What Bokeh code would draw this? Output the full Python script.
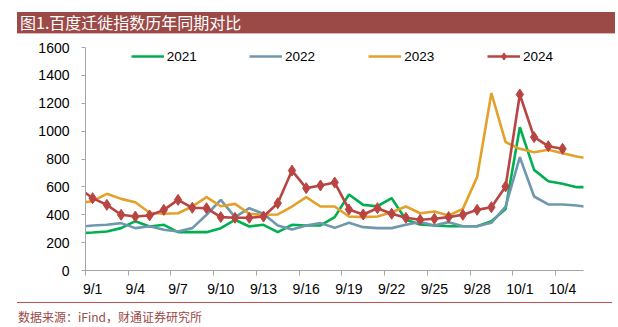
from bokeh.plotting import figure
from bokeh.layouts import column
from bokeh.models import Range1d, FixedTicker, Legend, LegendItem, Div
from bokeh.embed import file_html
from bokeh.resources import INLINE

# day index: 0 = 9/1 ; -1 = 8/31 (clipped at the left edge), 35 = 10/6
days = list(range(-1, 36))
tick_days = [0, 3, 6, 9, 12, 15, 18, 21, 24, 27, 30, 33]
tick_labels = ["9/1", "9/4", "9/7", "9/10", "9/13", "9/16", "9/19", "9/22",
               "9/25", "9/28", "10/1", "10/4"]

s2021 = [267, 273, 280, 304, 354, 316, 328, 275, 275, 275, 304, 364, 316, 328,
         275, 328, 323, 323, 383, 545, 471, 461, 519, 364, 330, 323, 318, 318,
         318, 354, 442, 1028, 722, 641, 622, 598, 598]
s2022 = [313, 323, 328, 340, 304, 318, 292, 280, 304, 400, 507, 383, 447, 407,
         323, 294, 323, 340, 306, 342, 311, 304, 304, 328, 348, 323, 347, 318,
         318, 342, 459, 813, 531, 474, 474, 466, 452]
s2023 = [483, 498, 550, 514, 490, 414, 407, 411, 459, 526, 461, 478, 407, 400,
         402, 459, 526, 459, 459, 387, 383, 387, 418, 459, 411, 423, 395, 442,
         670, 1272, 921, 873, 849, 866, 842, 818, 800]
days2024 = list(range(-1, 34))
s2024 = [595, 519, 471, 400, 387, 395, 435, 507, 450, 447, 383, 378, 378, 387,
         483, 717, 591, 610, 631, 438, 402, 447, 407, 378, 364, 371, 383, 400,
         435, 454, 603, 1263, 957, 892, 873]

series_names = ["2021", "2022", "2023", "2024"]
TITLE = "图1.百度迁徙指数历年同期对比"
SOURCE = "数据来源：iFind，财通证券研究所"

C21, C22, C23, C24 = "#00B050", "#6F98AE", "#E3A02B", "#B94543"
AX = "#A6A6A6"
FONT = "Liberation Sans"
CJK = "'Noto Sans CJK SC'"

p = figure(width=618, height=260, output_backend="svg", toolbar_location=None,
           x_range=Range1d(-0.5, 34.47), y_range=Range1d(0, 1600),
           min_border_left=85, min_border_right=35, min_border_top=7,
           min_border_bottom=30, margin=0)
p.outline_line_color = None
p.background_fill_color = "white"
p.border_fill_color = "white"
p.xgrid.visible = False
p.ygrid.visible = False

r21 = p.line(days, s2021, line_color=C21, line_width=2.6)
r22 = p.line(days, s2022, line_color=C22, line_width=2.6)
r23 = p.line(days, s2023, line_color=C23, line_width=2.6)
r24 = p.line(days2024, s2024, line_color=C24, line_width=2.6)
m24 = p.scatter(days2024, s2024, marker="diamond", size=11, fill_color=C24,
                line_color=C24)

xa = p.xaxis[0]
xa.ticker = FixedTicker(ticks=tick_days,
                        minor_ticks=[d - 0.5 for d in tick_days])
xa.major_label_overrides = {d: l for d, l in zip(tick_days, tick_labels)}
xa.major_tick_out = 0
xa.major_tick_in = 0
xa.minor_tick_out = 5
xa.minor_tick_in = 0
xa.minor_tick_line_color = AX
xa.axis_line_color = AX
xa.major_label_standoff = 5
xa.major_label_text_font = FONT
xa.major_label_text_font_size = "14px"
xa.major_label_text_color = "#000000"

ya = p.yaxis[0]
ya.ticker = FixedTicker(ticks=list(range(0, 1601, 200)))
ya.major_tick_out = 4
ya.major_tick_in = 0
ya.minor_tick_line_color = None
ya.major_tick_line_color = AX
ya.axis_line_color = AX
ya.major_label_standoff = 12
ya.major_label_text_font = FONT
ya.major_label_text_font_size = "14px"
ya.major_label_text_color = "#000000"

# one single-item legend per series, side by side, fully inside the frame
legend_x = [45.7, 164.0, 283.3, 402.0]
legend_renderers = [[r21], [r22], [r23], [r24, m24]]
for name, rs, lx in zip(series_names, legend_renderers, legend_x):
    lg = Legend(items=[LegendItem(label=name, renderers=rs)],
                location=(lx, 205), glyph_width=33, glyph_height=18,
                label_height=18, label_width=36, label_standoff=3,
                padding=0, margin=0, border_line_color=None,
                background_fill_alpha=0, label_text_font=FONT,
                label_text_font_size="13.5px", label_text_color="#000000")
    p.add_layout(lg)

title_div = Div(
    text=('<div style="padding:12px 0 0 17px;">'
          '<div style="width:595px;height:21px;background:#9B4A47;'
          'border-bottom:1.5px solid #E2B4B2;color:#ffffff;'
          'font-family:' + CJK + ';font-size:16px;line-height:21px;'
          'padding-left:3px;box-sizing:content-box;white-space:nowrap;">'
          + TITLE + '</div></div>'),
    width=618, height=40, margin=0)

foot_div = Div(
    text=('<div style="padding:2px 0 0 17px;">'
          '<div style="width:595px;height:0;border-top:1px solid #C0504D;">'
          '</div>'
          '<div style="padding:7px 0 0 1px;font-family:' + CJK + ';'
          'font-size:12px;line-height:14px;color:#9B4A47;white-space:nowrap;">'
          + SOURCE + '</div></div>'),
    width=618, height=27, margin=0)

layout = column(title_div, p, foot_div, spacing=0, margin=0)

open("out.html", "w").write(file_html(layout, INLINE))
